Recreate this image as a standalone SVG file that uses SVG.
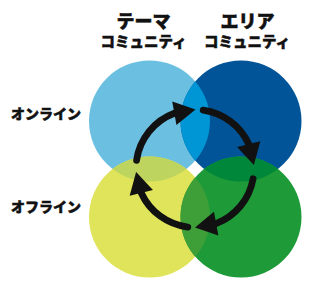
<svg xmlns="http://www.w3.org/2000/svg" width="329" height="287" viewBox="0 0 329 287">
<style>
.t{font-family:"Noto Sans CJK JP","Noto Sans CJK SC",sans-serif;font-weight:900;fill:#111;stroke:#111;stroke-width:0.5;text-anchor:middle}
.h{font-size:18px}
.s{font-size:14.5px}
.l{font-size:14px}
.arc{fill:none;stroke:#111;stroke-width:6.8;stroke-linecap:round}
.head{fill:#111}
</style>
<defs>
<clipPath id="cTL"><circle cx="149.5" cy="121" r="60.5"/></clipPath>
<clipPath id="cTR"><circle cx="241" cy="121" r="60.5"/></clipPath>
<clipPath id="cBL"><circle cx="149.5" cy="217" r="60.5"/></clipPath>
<clipPath id="cBR"><circle cx="241" cy="217" r="60.5"/></clipPath>
</defs>
<rect width="329" height="287" fill="#fff"/>
<g id="theme-online"><circle cx="149.5" cy="121" r="60.5" fill="#6BC0E2"/></g>
<g id="area-online"><circle cx="241" cy="121" r="60.5" fill="#005497"/></g>
<g id="theme-offline"><circle cx="149.5" cy="217" r="60.5" fill="#E0E45A"/></g>
<g id="area-offline"><circle cx="241" cy="217" r="60.5" fill="#1E9A38"/></g>
<g id="overlaps">
<circle cx="149.5" cy="121" r="60.5" fill="#0095D4" clip-path="url(#cTR)"/>
<circle cx="149.5" cy="121" r="60.5" fill="#BDD45E" clip-path="url(#cBL)"/>
<circle cx="241" cy="121" r="60.5" fill="#00873A" clip-path="url(#cBR)"/>
<circle cx="149.5" cy="217" r="60.5" fill="#3E9F39" clip-path="url(#cBR)"/>
</g>
<g id="connectors">
<path class="arc" d="M136.57,160.29 A59,59 0 0 1 174.34,113.24"/>
<polygon class="head" points="195.52,109.50 176.43,125.06 172.25,101.42"/>
<path class="arc" d="M203.21,110.07 A59,59 0 0 1 248.69,144.03"/>
<polygon class="head" points="253.89,164.90 237.05,146.93 260.33,141.13"/>
<path class="arc" d="M253.10,178.74 A59,59 0 0 1 216.14,223.58"/>
<polygon class="head" points="195,227.5 213.95,211.78 218.33,235.38"/>
<path class="arc" d="M187.81,227.06 A59,59 0 0 1 141.31,192.97"/>
<polygon class="head" points="136.11,172.10 152.95,190.07 129.67,195.87"/>
</g>
<g id="labels">
<text class="t"><tspan class="h" x="143.5" y="27.5">テーマ</tspan><tspan class="s" x="143.5" y="46.5">コミュニティ</tspan></text>
<text class="t"><tspan class="h" x="247.5" y="27.5">エリア</tspan><tspan class="s" x="247" y="46.5">コミュニティ</tspan></text>
<text class="t l" x="46" y="119">オンライン</text>
<text class="t l" x="46" y="212">オフライン</text>
</g>
</svg>
